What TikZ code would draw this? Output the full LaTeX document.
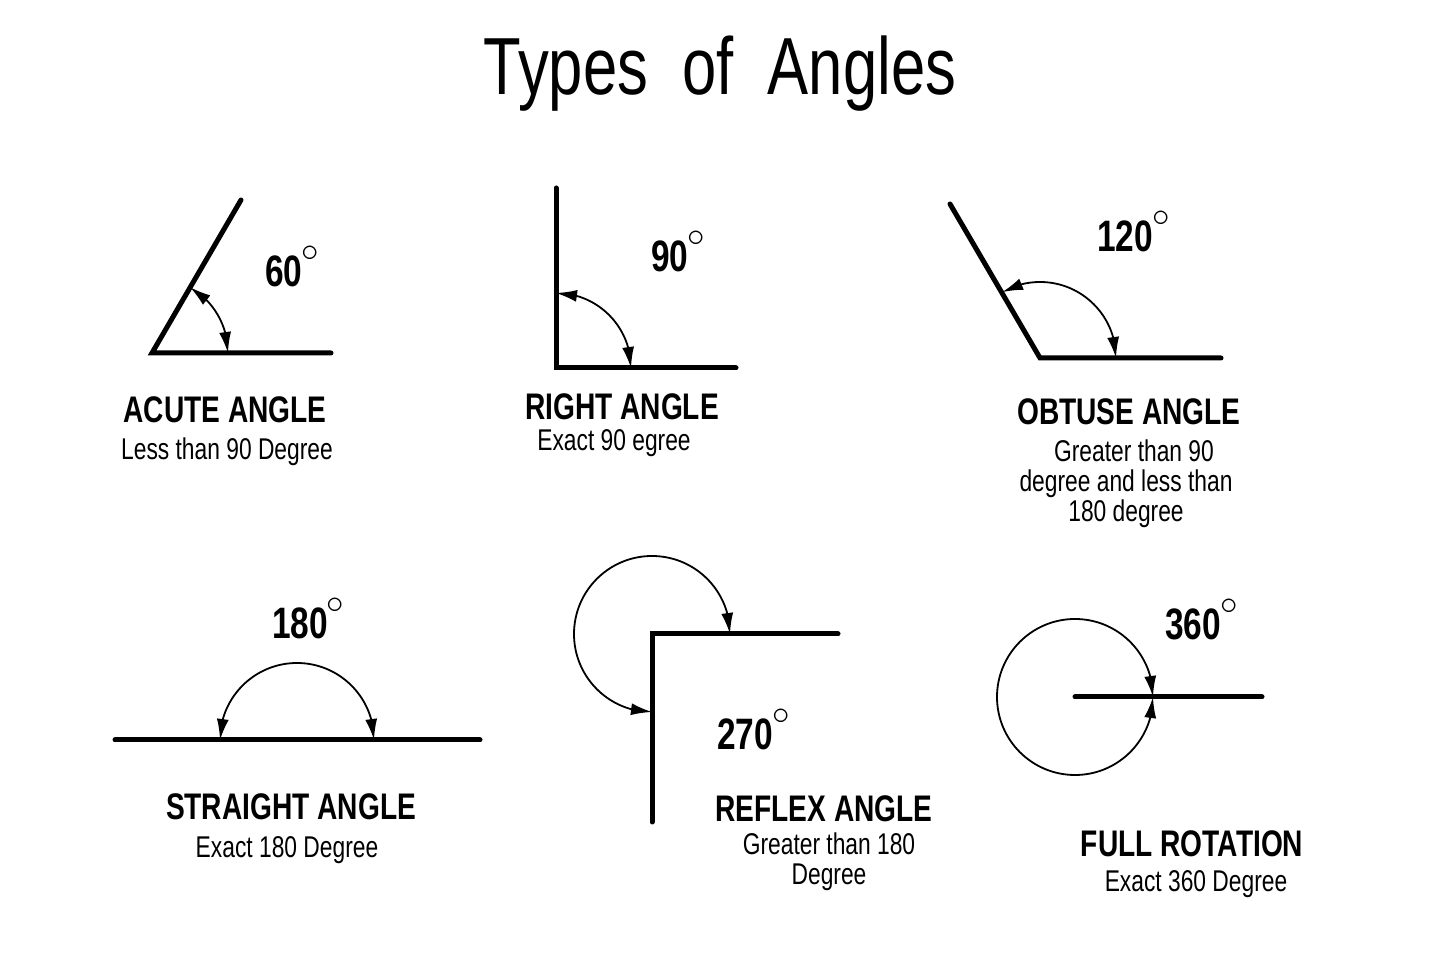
\documentclass[tikz,border=0pt]{standalone}
\usepackage{fontspec}
\setmainfont{Liberation Sans}[FakeStretch=0.76]
\usetikzlibrary{arrows.meta,bending}
\newcommand{\dg}{\kern-1pt\raisebox{25pt}{\scalebox{1.4}{\fontsize{24}{24}\selectfont$\circ$}}}
\tikzset{
  ray/.style={line width=5pt,line cap=round},
  angarc/.style={line width=1.8pt,{Latex[length=21pt,width=12pt]}-{Latex[length=21pt,width=12pt]}},
  heading/.style={font=\fontsize{81}{90}\selectfont,anchor=base,inner sep=0pt},
  angname/.style={font=\bfseries\fontsize{37}{40}\selectfont,anchor=base,inner sep=0pt},
  angdesc/.style={font=\fontsize{30}{30}\selectfont,anchor=base,align=center,inner sep=0pt},
  angval/.style={font=\bfseries\fontsize{44}{46}\selectfont,anchor=base west,inner sep=0pt}
}
\begin{document}
\begin{tikzpicture}[x=1pt,y=1pt]
\useasboundingbox (0,0) rectangle (1440,960);
\node[heading] (title) at (720,865) {Types\ \ of\ \ Angles};
% acute
\coordinate (A) at (152,607);
\coordinate (A1) at (331,607);
\coordinate (A2) at (241,760);
\draw[ray] (A2)--(A)--(A1);
\draw[angarc] ([shift={(0:76)}]A) arc[start angle=0,end angle=60,radius=76];
\node[angval] (v60) at (265,673) {60\dg};
\node[angname] (acute) at (225,537) {ACUTE ANGLE};
\node[angdesc] (acuted) at (227,500) {Less than 90 Degree};
% right
\coordinate (R) at (556,592);
\coordinate (R1) at (736,592);
\coordinate (R2) at (556,772);
\draw[ray] (R2)--(R)--(R1);
\draw[angarc] ([shift={(0:75)}]R) arc[start angle=0,end angle=90,radius=75];
\node[angval] (v90) at (651,688) {90\dg};
\node[angname] (right) at (622,540) {RIGHT ANGLE};
\node[angdesc] (rightd) at (614,509) {Exact 90 egree};
% obtuse
\coordinate (O) at (1040,602);
\coordinate (O1) at (1221,602);
\coordinate (O2) at (950,756);
\draw[ray] (O2)--(O)--(O1);
\draw[angarc] ([shift={(0:76)}]O) arc[start angle=0,end angle=120,radius=76];
\node[angval] (v120) at (1097,708) {120\dg};
\node[angname] (obtuse) at (1129,535) {OBTUSE ANGLE};
\node[angdesc] (obtused) at (1126,438) {\hspace*{16pt}Greater than 90\\degree and less than\\180 degree};
% straight
\coordinate (S) at (297,220);
\coordinate (S1) at (115,220);
\coordinate (S2) at (480,220);
\draw[ray] (S1)--(S2);
\draw[angarc] ([shift={(0:77)}]S) arc[start angle=0,end angle=180,radius=77];
\node[angval] (v180) at (272,321) {180\dg};
\node[angname] (straight) at (291,140) {STRAIGHT ANGLE};
\node[angdesc] (straightd) at (287,102) {Exact 180 Degree};
% reflex
\coordinate (X) at (652,326);
\coordinate (X1) at (838,326);
\coordinate (X2) at (652,138);
\draw[ray] (X2)--(X)--(X1);
\draw[angarc] ([shift={(0:78)}]X) arc[start angle=0,end angle=270,radius=78];
\node[angval] (v270) at (717,210) {270\dg};
\node[angname] (reflex) at (824,138) {REFLEX ANGLE};
\node[angdesc] (reflexd) at (829,75) {Greater than 180\\Degree};
% full rotation
\coordinate (F) at (1075,263);
\coordinate (F1) at (1262,263);
\draw[ray] (F)--(F1);
\draw[angarc] ([shift={(0:78)}]F) arc[start angle=0,end angle=360,radius=78];
\node[angval] (v360) at (1165,320) {360\dg};
\node[angname] (full) at (1192,103) {FULL ROTATION};
\node[angdesc] (fulld) at (1196,68) {Exact 360 Degree};
\end{tikzpicture}
\end{document}
